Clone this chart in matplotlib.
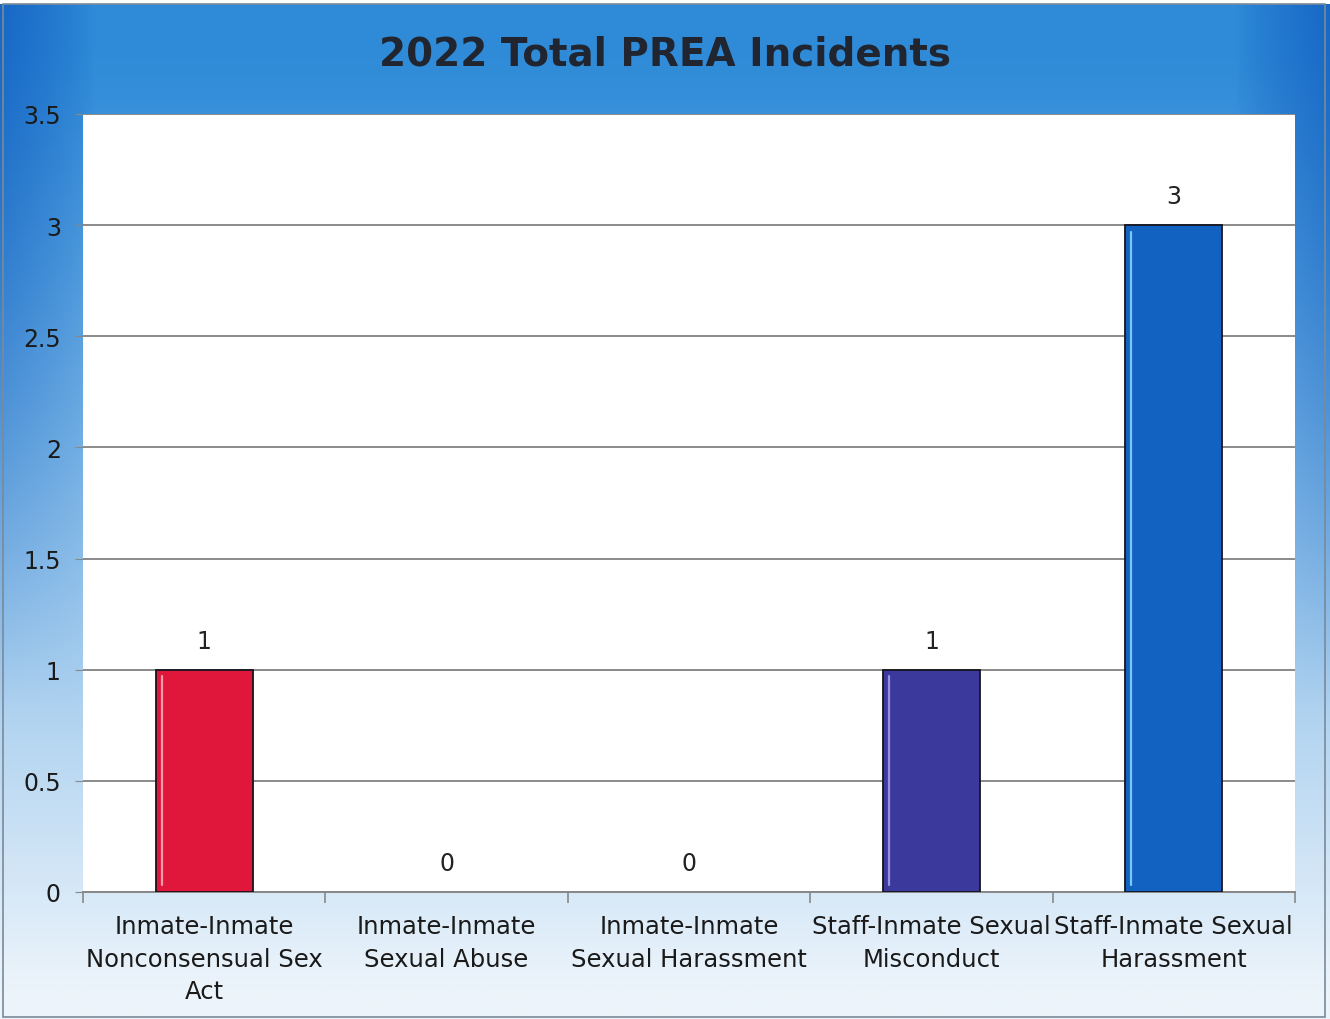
import numpy as np
import matplotlib
matplotlib.use("Agg")
import matplotlib.pyplot as plt
from matplotlib.patches import Rectangle

categories = ["Inmate-Inmate\nNonconsensual Sex\nAct",
              "Inmate-Inmate\nSexual Abuse",
              "Inmate-Inmate\nSexual Harassment",
              "Staff-Inmate Sexual\nMisconduct",
              "Staff-Inmate Sexual\nHarassment"]
values = [1, 0, 0, 1, 3]
bar_colors = ["#e0163a", "#e0163a", "#e0163a", "#3b3a9c", "#1262c2"]
highlight_colors = ["#f59aa8", "#f59aa8", "#f59aa8", "#9a8fe0", "#7cc8f4"]
yticks = [0, 0.5, 1, 1.5, 2, 2.5, 3, 3.5]
title = "2022 Total PREA Incidents"

W, H = 1330, 1020
fig = plt.figure(figsize=(W / 100, H / 100), dpi=100)

# background gradient
ny, nx = 400, 400
yy, xx = np.mgrid[0:1:ny * 1j, 0:1:nx * 1j]
dark = np.array([0x14, 0x62, 0xc2]) / 255
mid = np.array([0x2f, 0x8b, 0xd8]) / 255
light = np.array([0xec, 0xf4, 0xfb]) / 255
edge = np.clip(1 - np.minimum(xx, 1 - xx) / 0.07, 0, 1) ** 0.8
t = yy
tv = np.clip((t - 0.05) / 0.92, 0, 1) ** 1.1
base = mid[None, None, :] * (1 - tv[..., None]) + light[None, None, :] * tv[..., None]
dk = (edge * (1 - np.clip(t / 0.7, 0, 1)))[..., None] * 0.85
img = base * (1 - dk) + dark[None, None, :] * dk
bg = fig.add_axes([0, 0, 1, 1])
bg.imshow(img, aspect="auto", extent=[0, 1, 0, 1], origin="upper", zorder=0)
bg.set_axis_off()
fig.patches.append(Rectangle((0, 1 - 5 / H), 1, 5 / H, transform=fig.transFigure,
                             facecolor="white", edgecolor="none", zorder=1))
fig.patches.append(Rectangle((3 / W, 2 / H), 1322 / W, 1 - 7 / H, transform=fig.transFigure,
                             facecolor="none", edgecolor="#7a8a99", linewidth=1.2, zorder=2))

ax = fig.add_axes([83 / W, 1 - 893 / H, (1295 - 83) / W, (893 - 115) / H])
ax.set_facecolor("white")
x = np.arange(len(categories))
bw = 0.40
lws = [1.3 if v > 0 else 0 for v in values]
bars = ax.bar(x, values, width=bw, color=bar_colors, edgecolor="#15151f",
              linewidth=lws, zorder=3)
for xi, v, hc in zip(x, values, highlight_colors):
    if v > 0:
        ax.plot([xi - bw / 2 + 0.025, xi - bw / 2 + 0.025], [0.03, v - 0.03],
                color=hc, linewidth=1.6, zorder=4, solid_capstyle="round")
    ax.annotate(f"{v}", (xi, v), xytext=(0, 12), textcoords="offset points",
                ha="center", va="bottom", fontsize=17, color="#222222")

ax.set_xlim(-0.5, len(categories) - 0.5)
ax.set_ylim(0, 3.5)
ax.set_yticks(yticks)
ax.set_yticklabels([f"{v:g}" for v in yticks], fontsize=17, color="#1a1a1a")
ax.yaxis.grid(True, color="#8a8a8a", linewidth=1.4, zorder=1)
ax.set_axisbelow(True)
ax.tick_params(axis="y", length=6, color="#888888", pad=10)

ax.set_xticks(x)
ax.set_xticklabels(categories, fontsize=17.5, color="#1a1a1a", linespacing=1.45)
ax.tick_params(axis="x", length=0, pad=16)
ax.set_xticks(np.arange(-0.5, len(categories)), minor=True)
ax.tick_params(axis="x", which="minor", length=8, color="#888888", width=1.2)

for s in ["top", "right", "left"]:
    ax.spines[s].set_visible(False)
ax.spines["bottom"].set_color("#888888")
ax.spines["bottom"].set_linewidth(1.4)

fig.text(0.5, 1 - 55 / H, title, ha="center", va="center", fontsize=28,
         fontweight="bold", color="#202530")

fig.savefig("out.png", dpi=100)
